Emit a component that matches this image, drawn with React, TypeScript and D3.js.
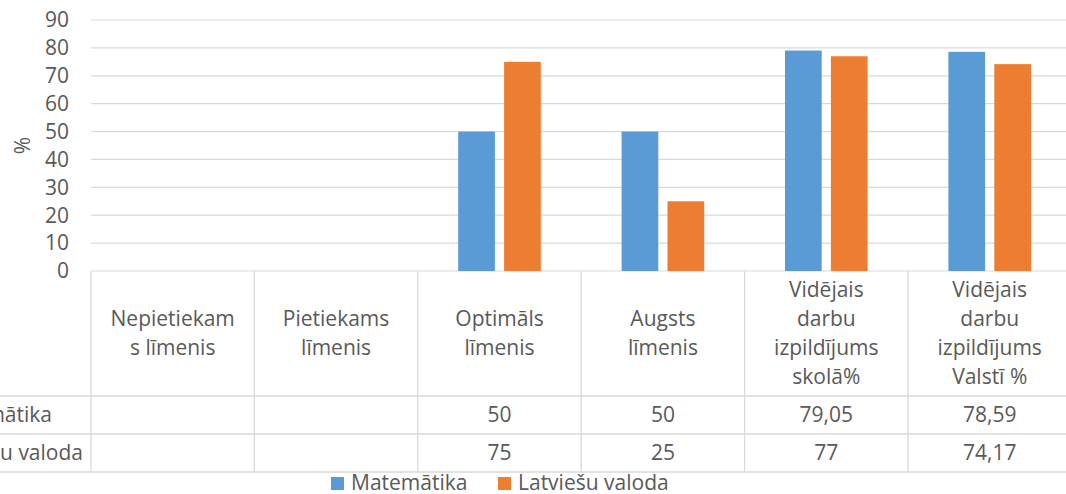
import React from "react";
import * as d3 from "d3";

const categories: string[][] = [
  ["Nepietiekam", "s līmenis"],
  ["Pietiekams", "līmenis"],
  ["Optimāls", "līmenis"],
  ["Augsts", "līmenis"],
  ["Vidējais", "darbu", "izpildījums", "skolā%"],
  ["Vidējais", "darbu", "izpildījums", "Valstī %"],
];
const seriesNames = ["Matemātika", "Latviešu valoda"];
const matematika: (number | null)[] = [null, null, 50, 50, 79.05, 78.59];
const latviesu: (number | null)[] = [null, null, 75, 25, 77, 74.17];
const yTicks = [0, 10, 20, 30, 40, 50, 60, 70, 80, 90];
const colors = ["#5b9bd5", "#ed7d31"];

const W = 1066;
const H = 494;
const FONT = "'Open Sans', 'Noto Sans', sans-serif";
const TXT = "#595959";
const GRID = "#d9d9d9";

export default function App() {
  const series = [matematika, latviesu];
  const plotLeft = 91;
  const catW = 163.4;
  const plotRight = plotLeft + catW * categories.length;
  const y = d3.scaleLinear().domain([0, 90]).range([271, 20]);
  const x = d3
    .scaleBand<number>()
    .domain(categories.map((_, i) => i))
    .range([plotLeft, plotRight]);
  const gap = 2.2;
  const overlap = -0.25;
  const bw = catW / (2 - overlap + gap);
  const pad = (gap * bw) / 2;

  const headerTop = y(0);
  const headerBottom = 396;
  const row1Bottom = 434;
  const row2Bottom = 472;
  const lineH = 29;
  const fs = 21;
  const rowLabelEnds = [52, 83];
  const fmt = (v: number | null) =>
    v === null ? "" : String(v).replace(".", ",");
  const rowY = (si: number) =>
    (si === 0
      ? (headerBottom + row1Bottom) / 2
      : (row1Bottom + row2Bottom) / 2) + 7;

  return (
    <svg
      width={W}
      height={H}
      style={{ position: "absolute", left: 0, top: 0, background: "#fff" }}
      fontFamily={FONT}
    >
      <rect x={0} y={0} width={W} height={H} fill="#fff" />
      {yTicks.map((t) => (
        <line
          key={"g" + t}
          x1={plotLeft}
          x2={plotRight}
          y1={y(t)}
          y2={y(t)}
          stroke={GRID}
          strokeWidth={1.2}
        />
      ))}
      {yTicks.map((t) => (
        <text
          key={"t" + t}
          x={69}
          y={y(t) + 7.3}
          textAnchor="end"
          fontSize={fs}
          fill={TXT}
        >
          {t}
        </text>
      ))}
      <text
        transform={`translate(30,145.5) rotate(-90)`}
        textAnchor="middle"
        fontSize={fs}
        fill={TXT}
      >
        %
      </text>
      {series.map((s, si) =>
        s.map((v, ci) =>
          v === null ? null : (
            <rect
              key={`b${si}-${ci}`}
              x={(x(ci) as number) + pad + si * bw * (1 - overlap)}
              y={y(v)}
              width={bw}
              height={y(0) - y(v)}
              fill={colors[si]}
            />
          )
        )
      )}
      {d3.range(categories.length + 1).map((i) => (
        <line
          key={"v" + i}
          x1={plotLeft + i * catW}
          x2={plotLeft + i * catW}
          y1={headerTop}
          y2={row2Bottom}
          stroke={GRID}
          strokeWidth={1.3}
        />
      ))}
      {[headerBottom, row1Bottom, row2Bottom].map((yy) => (
        <line
          key={"h" + yy}
          x1={-200}
          x2={plotRight}
          y1={yy}
          y2={yy}
          stroke={GRID}
          strokeWidth={1.3}
        />
      ))}
      {categories.map((lines, ci) => {
        const cx = (x(ci) as number) + catW / 2;
        const mid = (headerTop + headerBottom) / 2 + 6.5;
        return (
          <text key={"c" + ci} textAnchor="middle" fontSize={fs} fill={TXT}>
            {lines.map((l, li) => (
              <tspan
                key={li}
                x={cx}
                y={mid + (li - (lines.length - 1) / 2) * lineH}
              >
                {l}
              </tspan>
            ))}
          </text>
        );
      })}
      {seriesNames.map((n, si) => (
        <text
          key={"r" + si}
          x={rowLabelEnds[si]}
          y={rowY(si)}
          textAnchor="end"
          fontSize={fs}
          fill={TXT}
        >
          {n}
        </text>
      ))}
      {series.map((s, si) =>
        s.map((v, ci) => (
          <text
            key={`v${si}-${ci}`}
            x={(x(ci) as number) + catW / 2}
            y={rowY(si)}
            textAnchor="middle"
            fontSize={fs}
            fill={TXT}
          >
            {fmt(v)}
          </text>
        ))
      )}
      <g>
        <rect x={331} y={477} width={13} height={13} fill={colors[0]} />
        <text x={351} y={489.5} fontSize={fs} fill={TXT}>
          {seriesNames[0]}
        </text>
        <rect x={498} y={477} width={13} height={13} fill={colors[1]} />
        <text x={518} y={489.5} fontSize={fs} fill={TXT}>
          {seriesNames[1]}
        </text>
      </g>
    </svg>
  );
}
